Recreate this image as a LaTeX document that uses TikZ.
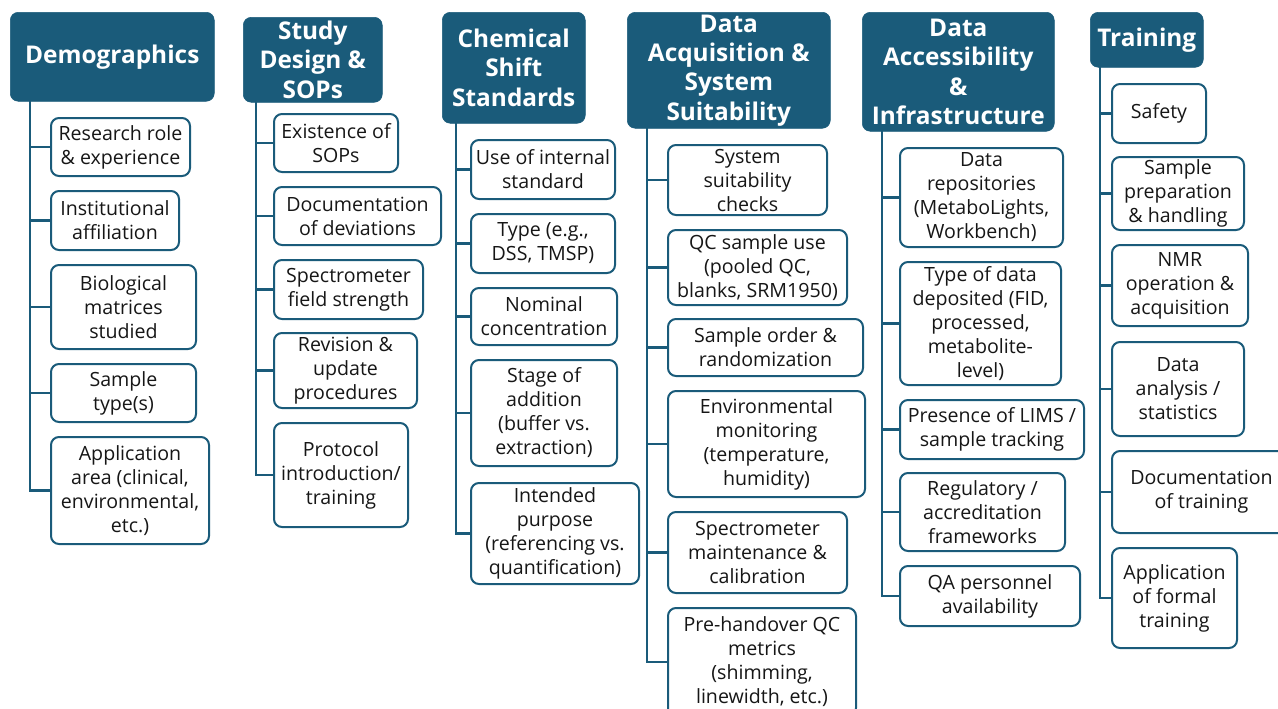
\documentclass[tikz,border=0pt]{standalone}
\usepackage{fontspec}
\setmainfont{Open Sans}
\definecolor{teal}{HTML}{1A5B7A}
\definecolor{ink}{HTML}{161616}
\tikzset{
  hdrbox/.style={fill=teal, draw=teal, rounded corners=6pt, text=white,
    font=\bfseries\fontsize{18.3}{22}\selectfont, align=center, inner sep=1pt},
  itembox/.style={draw=teal, line width=1.5pt, fill=white, rounded corners=6pt,
    text=ink, font=\fontsize{14.7}{18}\selectfont, align=center, inner sep=1pt},
  conn/.style={draw=teal, line width=1.8pt}
}
% box given by left, right, top, bottom (pixel units)
\newcommand\placebox[7]{%
  \node[#1, anchor=north west, minimum width={(#4-#3)*0.75pt}, minimum height={(#6-#5)*0.75pt}] (#2) at (#3,#5) {#7};}
\begin{document}
\begin{tikzpicture}[x=0.75pt,y=-0.75pt]
\useasboundingbox (0,0) rectangle (1278,708);

% ---------- Demographics ----------
\placebox{hdrbox}{h1}{10}{214}{12}{101}{Demographics}
\placebox{itembox}{a1}{50}{189}{117}{175}{Research role\\\& experience}
\placebox{itembox}{a2}{50}{178}{190}{249}{Institutional\\affiliation}
\placebox{itembox}{a3}{50}{195}{264}{348}{Biological\\matrices\\studied}
\placebox{itembox}{a4}{50}{195}{363}{421}{Sample\\type(s)}
\placebox{itembox}{a5}{50}{208}{436}{543}{Application\\area (clinical,\\environmental,\\etc.)}
\coordinate (t1) at (30,101);
\draw[conn] (t1) |- (a5.west);
\foreach \n in {a1,a2,a3,a4} \draw[conn] (t1 |- \n.west) -- (\n.west);

% ---------- Study Design & SOPs ----------
\placebox{hdrbox}{h2}{243}{382}{17}{102}{Study\\Design \&\\SOPs}
\placebox{itembox}{b1}{273}{397}{113}{171}{Existence of\\SOPs}
\placebox{itembox}{b2}{273}{440}{186}{244}{Documentation\\of deviations}
\placebox{itembox}{b3}{273}{422}{259}{318}{Spectrometer\\field strength}
\placebox{itembox}{b4}{273}{416}{332}{407}{Revision \&\\update\\procedures}
\placebox{itembox}{b5}{273}{407}{422}{526}{Protocol\\introduction/\\training}
\coordinate (t2) at (256,102);
\draw[conn] (t2) |- (b5.west);
\foreach \n in {b1,b2,b3,b4} \draw[conn] (t2 |- \n.west) -- (\n.west);

% ---------- Chemical Shift Standards ----------
\placebox{hdrbox}{h3}{442}{585}{12}{123}{Chemical\\Shift\\Standards}
\placebox{itembox}{c1}{470}{614}{139}{198}{Use of internal\\standard}
\placebox{itembox}{c2}{470}{614}{213}{272}{Type (e.g.,\\DSS, TMSP)}
\placebox{itembox}{c3}{470}{616}{287}{344}{Nominal\\concentration}
\placebox{itembox}{c4}{470}{616}{359}{465}{Stage of\\addition\\(buffer vs.\\extraction)}
\placebox{itembox}{c5}{470}{638}{482}{583}{Intended\\purpose\\(referencing vs.\\quantification)}
\coordinate (t3) at (456,123);
\draw[conn] (t3) |- (c5.west);
\foreach \n in {c1,c2,c3,c4} \draw[conn] (t3 |- \n.west) -- (\n.west);

% ---------- Data Acquisition & System Suitability ----------
\placebox{hdrbox}{h4}{627}{830}{12}{128}{Data\\Acquisition \&\\System\\Suitability}
\placebox{itembox}{d1}{667}{826}{144}{214}{System\\suitability\\checks}
\placebox{itembox}{d2}{667}{846}{229}{304}{QC sample use\\(pooled QC,\\blanks, SRM1950)}
\placebox{itembox}{d3}{667}{862}{318}{375}{Sample order \&\\randomization}
\placebox{itembox}{d4}{667}{864}{390}{496}{Environmental\\monitoring\\(temperature,\\humidity)}
\placebox{itembox}{d5}{667}{846}{511}{592}{Spectrometer\\maintenance \&\\calibration}
\placebox{itembox}{d6}{667}{855}{607}{715}{Pre-handover QC\\metrics\\(shimming,\\linewidth, etc.)}
\coordinate (t4) at (647,128);
\draw[conn] (t4) |- (d6.west);
\foreach \n in {d1,d2,d3,d4,d5} \draw[conn] (t4 |- \n.west) -- (\n.west);

% ---------- Data Accessibility & Infrastructure ----------
\placebox{hdrbox}{h5}{862}{1054}{12}{131}{Data\\Accessibility\\\&\\Infrastructure}
\placebox{itembox}{e1}{899}{1062}{147}{246}{Data\\repositories\\(MetaboLights,\\Workbench)}
\placebox{itembox}{e2}{899}{1060}{261}{384}{Type of data\\deposited (FID,\\processed,\\metabolite-\\level)}
\placebox{itembox}{e3}{899}{1083}{399}{458}{Presence of LIMS /\\sample tracking}
\placebox{itembox}{e4}{899}{1064}{472}{550}{Regulatory /\\accreditation\\frameworks}
\placebox{itembox}{e5}{899}{1079}{565}{625}{QA personnel\\availability}
\coordinate (t5) at (882,131);
\draw[conn] (t5) |- (e5.west);
\foreach \n in {e1,e2,e3,e4} \draw[conn] (t5 |- \n.west) -- (\n.west);

% ---------- Training ----------
\placebox{hdrbox}{h6}{1090}{1203}{12}{67}{Training}
\placebox{itembox}{f1}{1111}{1205}{83}{142}{Safety}
\placebox{itembox}{f2}{1111}{1243}{156}{229}{Sample\\preparation\\\& handling}
\placebox{itembox}{f3}{1111}{1247}{244}{325}{NMR\\operation \&\\acquisition}
\placebox{itembox}{f4}{1111}{1243}{341}{435}{Data\\analysis /\\statistics}
\placebox{itembox}{f5}{1111}{1290}{450}{532}{Documentation\\of training}
\placebox{itembox}{f6}{1111}{1236}{547}{647}{Application\\of formal\\training}
\coordinate (t6) at (1100,67);
\draw[conn] (t6) |- (f6.west);
\foreach \n in {f1,f2,f3,f4,f5} \draw[conn] (t6 |- \n.west) -- (\n.west);
\end{tikzpicture}
\end{document}
